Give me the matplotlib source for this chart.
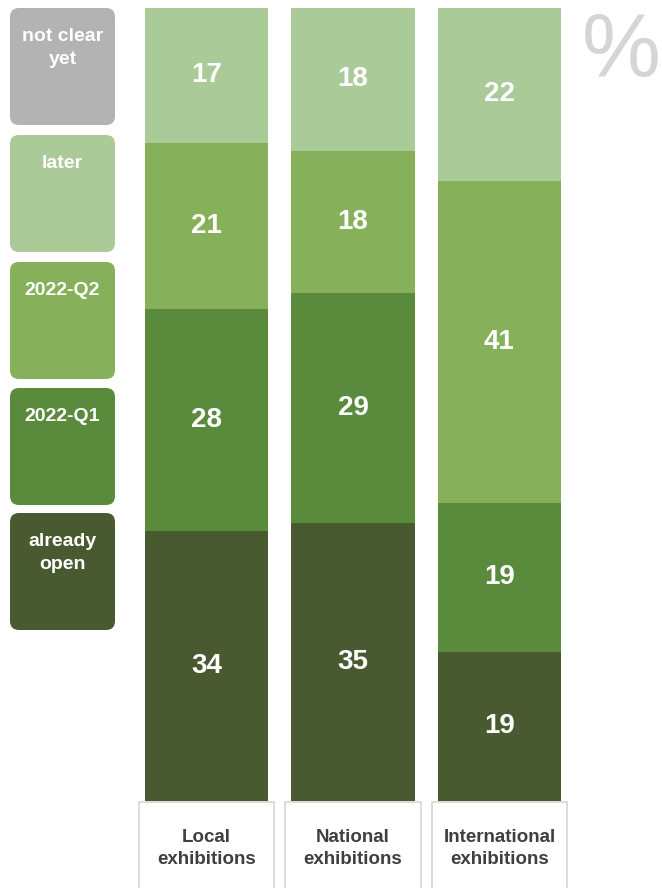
import matplotlib
matplotlib.use("Agg")
import matplotlib.pyplot as plt
from matplotlib.patches import FancyBboxPatch, Rectangle

plt.rcParams["font.family"] = ["Liberation Sans", "DejaVu Sans"]

# survey shares (%) per exhibition type
categories = ["Local\nexhibitions", "National\nexhibitions", "International\nexhibitions"]
already_open = [34, 35, 19]
q1_2022 = [28, 29, 19]
q2_2022 = [21, 18, 41]
later = [17, 18, 22]
not_clear = [0, 0, 0]

series_labels = ["already\nopen", "2022-Q1", "2022-Q2", "later", "not clear\nyet"]
series_values = [already_open, q1_2022, q2_2022, later, not_clear]
colors = ["#4a5a30", "#5a8b3c", "#86b05a", "#aacb97", "#b3b3b3"]

W, H = 662, 888
fig = plt.figure(figsize=(W / 100, H / 100), dpi=100)

# overlay in pixel units for the legend tiles and the % sign
bg = fig.add_axes([0, 0, 1, 1])
bg.set_xlim(0, W)
bg.set_ylim(H, 0)
bg.axis("off")

# stacked bars, each column scaled to 100 %
ax = fig.add_axes([145 / W, (H - 801) / H, 416 / W, 793 / H])
x = list(range(len(categories)))
totals = [sum(col) for col in zip(*series_values)]
bottom = [0.0] * len(categories)
for vals, col in zip(series_values, colors):
    heights = [v / t * 100 for v, t in zip(vals, totals)]
    ax.bar(x, heights, width=0.84, bottom=bottom, color=col, linewidth=0)
    for i, (v, h) in enumerate(zip(vals, heights)):
        if v > 0:
            ax.text(i, bottom[i] + h / 2, str(v), ha="center", va="center",
                    color="white", fontsize=20, fontweight="bold")
    bottom = [b + h for b, h in zip(bottom, heights)]

ax.set_xlim(-0.42, 2.42)
ax.set_ylim(0, 100)
ax.axis("off")

# category boxes under the bars (baseline of the last line is anchored)
for i, cat in enumerate(categories):
    ax.add_patch(Rectangle((i - 0.464, -0.1), 0.928, -13, facecolor="white",
                           edgecolor="#d6d6d6", linewidth=1.2, clip_on=False))
    ax.annotate(cat, (i, 0), xytext=(0, -45), textcoords="offset points",
                ha="center", va="baseline", color="#3f3f3f", fontsize=13.5,
                fontweight="bold", linespacing=1.36, annotation_clip=False)

# legend tiles, top to bottom
tile_top = [8, 135, 262, 388, 513]
line_pitch = 23
for top, lab, col in zip(tile_top, series_labels[::-1], colors[::-1]):
    bg.add_patch(FancyBboxPatch((10, top), 105, 117,
                                boxstyle="round,pad=0,rounding_size=9",
                                facecolor=col, edgecolor="none"))
    n_lines = lab.count("\n") + 1
    bg.text(62.5, top + 33 + (n_lines - 1) * line_pitch, lab, ha="center",
            va="baseline", color="white", fontsize=14, fontweight="bold",
            linespacing=1.45)

bg.text(621, 53, "%", ha="center", va="center", color="#d5d5d5", fontsize=64)

fig.savefig("out.png", dpi=100)
